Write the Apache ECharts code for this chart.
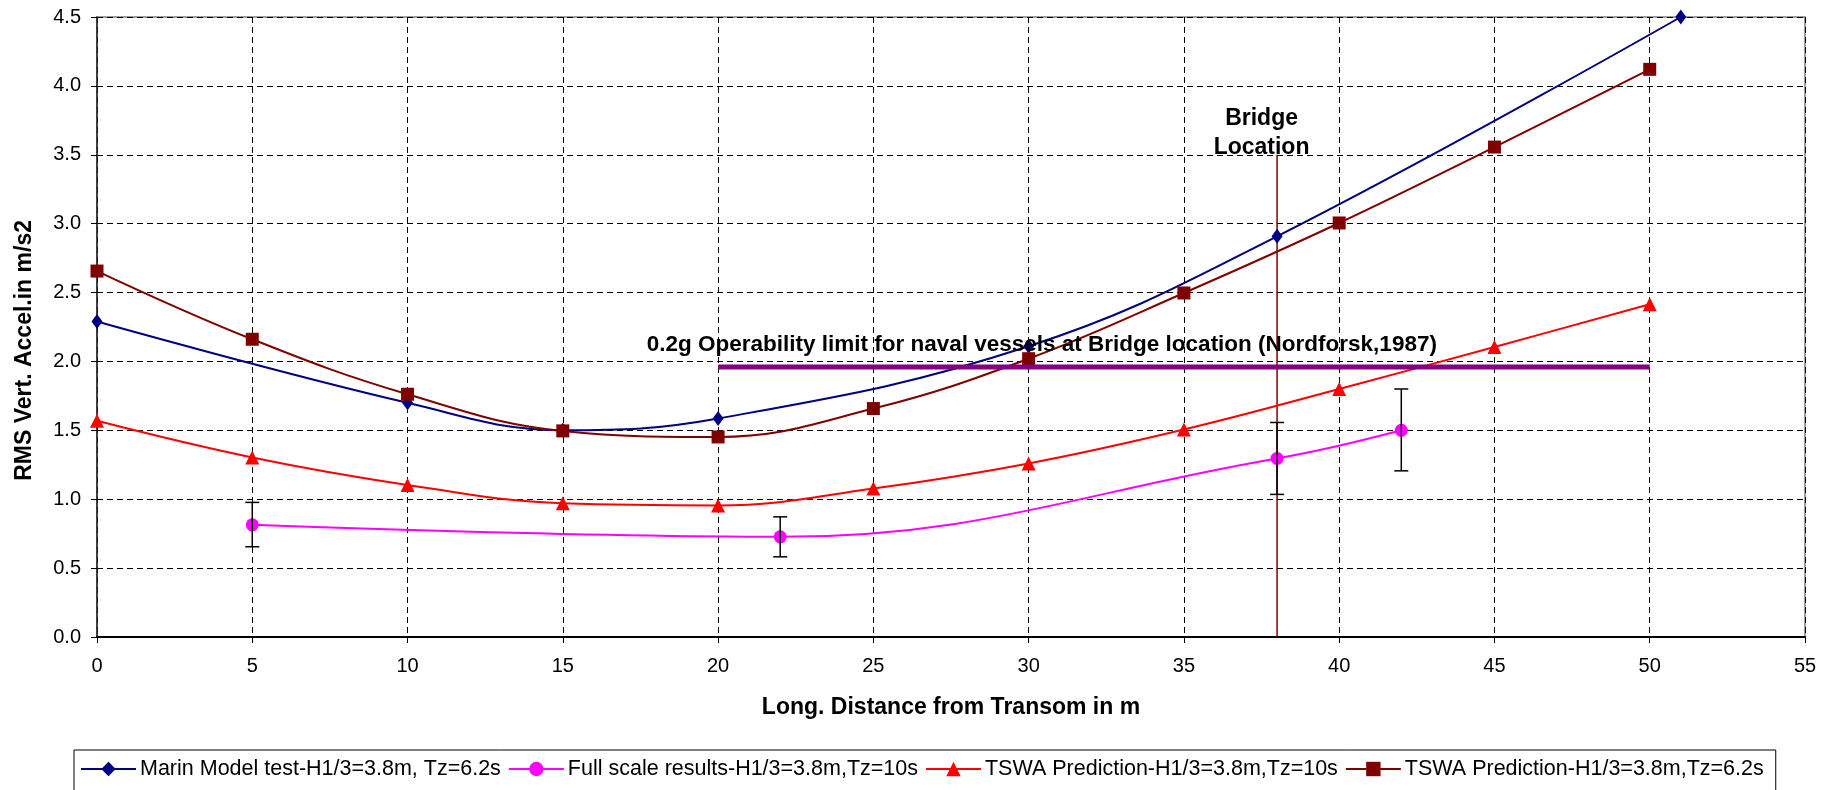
<!DOCTYPE html>
<html>
<head>
<meta charset="utf-8">
<title>RMS Vertical Acceleration</title>
<script src="https://cdn.jsdelivr.net/npm/echarts@6/dist/echarts.min.js"></script>
<style>
    html, body { margin: 0; padding: 0; background: #fff; }
    #chart { width: 1836px; height: 790px; }
</style>
</head>
<body>
<div id="chart"></div>
<script>
    // values
    var marinX = [0, 10, 15, 20, 30, 38, 51];
    var marinY = [2.29, 1.70, 1.50, 1.586, 2.11, 2.908, 4.50];

    var fullX = [5, 22, 38, 42];
    var fullY = [0.814, 0.727, 1.296, 1.50];
    var fullLow = [0.655, 0.582, 1.035, 1.206];
    var fullHigh = [0.977, 0.872, 1.557, 1.80];

    var tswaX = [0, 5, 10, 15, 20, 25, 30, 35, 40, 45, 50];
    var tswa10Y = [1.569, 1.303, 1.104, 0.97, 0.955, 1.078, 1.26, 1.506, 1.80, 2.105, 2.415];
    var tswa62Y = [2.656, 2.161, 1.762, 1.496, 1.452, 1.658, 2.02, 2.497, 3.005, 3.556, 4.12];

    var limitX = [20, 50];
    var limitY = 1.96;
    var bridgeX = 38;
    var bridgeTop = 3.5;

    var xTicks = [0, 5, 10, 15, 20, 25, 30, 35, 40, 45, 50, 55];
    var yTicks = [0, 0.5, 1.0, 1.5, 2.0, 2.5, 3.0, 3.5, 4.0, 4.5];

    var seriesNames = [
        'Marin Model test-H1/3=3.8m, Tz=6.2s',
        'Full scale results-H1/3=3.8m,Tz=10s',
        'TSWA Prediction-H1/3=3.8m,Tz=10s',
        'TSWA Prediction-H1/3=3.8m,Tz=6.2s'
    ];

    function pairs(xs, ys){
        return xs.map(function(x, i){ return [x, ys[i]]; });
    }

    var fontName = '"Liberation Sans", Arial, sans-serif';

    var myChart = echarts.init(document.getElementById('chart'));

    var option = {
        animation: false,
        backgroundColor: '#fff',
        grid: {
            left: 97,
            right: 31,
            top: 17,
            bottom: 153,
            show: true,
            borderColor: '#808080',
            borderWidth: 1.5
        },
        legend: {
            left: 74,
            top: 750,
            orient: 'horizontal',
            padding: [8, 12, 40, 6],
            borderColor: '#000',
            borderWidth: 1,
            itemWidth: 55,
            itemHeight: 18,
            itemGap: 7,
            data: seriesNames,
            textStyle: { fontFamily: fontName, fontSize: 21.5, color: '#000', padding: [0, 0, 0, -1] }
        },
        xAxis: {
            type: 'value',
            min: xTicks[0],
            max: xTicks[xTicks.length - 1],
            interval: 5,
            name: 'Long. Distance from Transom in m',
            nameLocation: 'middle',
            nameGap: 59,
            nameTextStyle: { fontFamily: fontName, fontSize: 23, fontWeight: 'bold', color: '#000' },
            axisLine: { onZero: false, lineStyle: { color: '#000', width: 2 } },
            axisTick: { show: true, length: 6, lineStyle: { color: '#000' } },
            axisLabel: { margin: 19, fontFamily: fontName, fontSize: 20, color: '#000' },
            splitLine: { show: true, lineStyle: { color: '#000', type: [6, 4], width: 1 } }
        },
        yAxis: {
            type: 'value',
            min: yTicks[0],
            max: yTicks[yTicks.length - 1],
            interval: 0.5,
            axisLine: { show: true, lineStyle: { color: '#222', width: 1.5 } },
            axisTick: { show: true, length: 6, lineStyle: { color: '#000' } },
            axisLabel: {
                margin: 16,
                fontFamily: fontName,
                fontSize: 20,
                color: '#000',
                formatter: function(v){ return v.toFixed(1); }
            },
            splitLine: { show: true, lineStyle: { color: '#000', type: [6, 4], width: 1 } }
        },
        series: [{
            name: 'bridge',
            type: 'line',
            data: [[bridgeX, 0], [bridgeX, bridgeTop]],
            symbol: 'none',
            lineStyle: { color: '#800000', width: 1.5 },
            z: 1
        }, {
            name: seriesNames[0],
            type: 'line',
            data: pairs(marinX, marinY),
            smooth: 0.4,
            symbol: 'diamond',
            symbolSize: [11, 15],
            color: '#000080',
            lineStyle: { color: '#000080', width: 2 },
            itemStyle: { color: '#000080' },
            z: 3
        }, {
            name: seriesNames[1],
            type: 'line',
            data: pairs(fullX, fullY),
            smooth: 0.4,
            symbol: 'circle',
            symbolSize: 13,
            color: '#ff00ff',
            lineStyle: { color: '#ff00ff', width: 2 },
            itemStyle: { color: '#ff00ff' },
            z: 3
        }, {
            name: 'errorbars',
            type: 'custom',
            data: fullX.map(function(x, i){ return [x, fullLow[i], fullHigh[i]]; }),
            renderItem: function(params, api){
                var lo = api.coord([api.value(0), api.value(1)]);
                var hi = api.coord([api.value(0), api.value(2)]);
                var w = 7;
                var st = { stroke: '#000', lineWidth: 1.5 };
                return {
                    type: 'group',
                    children: [
                        { type: 'line', shape: { x1: lo[0], y1: lo[1], x2: hi[0], y2: hi[1] }, style: st },
                        { type: 'line', shape: { x1: lo[0] - w, y1: lo[1], x2: lo[0] + w, y2: lo[1] }, style: st },
                        { type: 'line', shape: { x1: hi[0] - w, y1: hi[1], x2: hi[0] + w, y2: hi[1] }, style: st }
                    ]
                };
            },
            z: 4
        }, {
            name: seriesNames[2],
            type: 'line',
            data: pairs(tswaX, tswa10Y),
            smooth: 0.4,
            symbol: 'triangle',
            symbolSize: [14, 14],
            color: '#ff0000',
            lineStyle: { color: '#ff0000', width: 2 },
            itemStyle: { color: '#ff0000' },
            z: 3
        }, {
            name: seriesNames[3],
            type: 'line',
            data: pairs(tswaX, tswa62Y),
            smooth: 0.4,
            symbol: 'rect',
            symbolSize: 13,
            color: '#800000',
            lineStyle: { color: '#800000', width: 2 },
            itemStyle: { color: '#800000' },
            z: 3
        }, {
            name: 'limit',
            type: 'line',
            data: [[limitX[0], limitY], [limitX[1], limitY]],
            symbol: 'none',
            lineStyle: { color: '#800080', width: 5 },
            z: 5
        }]
    };

    myChart.setOption(option);

    // annotations placed through the axes
    var pLimit = myChart.convertToPixel({ gridIndex: 0 }, [17.7, 2.12]);
    var pBridge = myChart.convertToPixel({ gridIndex: 0 }, [37.5, 3.76]);
    var pLoc = myChart.convertToPixel({ gridIndex: 0 }, [37.5, 3.55]);
    var pYName = myChart.convertToPixel({ gridIndex: 0 }, [0, 2.08]);

    var boldText = { fontFamily: fontName, fontWeight: 'bold', fill: '#000' };

    myChart.setOption({
        graphic: [{
            type: 'text',
            x: pLimit[0], y: pLimit[1],
            z: 10,
            style: Object.assign({ text: '0.2g Operability limit for naval vessels at Bridge location (Nordforsk,1987)', fontSize: 22.5, align: 'left', verticalAlign: 'middle' }, boldText)
        }, {
            type: 'text',
            x: pBridge[0], y: pBridge[1],
            z: 10,
            style: Object.assign({ text: 'Bridge', fontSize: 23, align: 'center', verticalAlign: 'middle' }, boldText)
        }, {
            type: 'text',
            x: pLoc[0], y: pLoc[1],
            z: 10,
            style: Object.assign({ text: 'Location', fontSize: 23, align: 'center', verticalAlign: 'middle' }, boldText)
        }, {
            type: 'text',
            x: 25, y: pYName[1],
            rotation: Math.PI / 2,
            z: 10,
            style: Object.assign({ text: 'RMS Vert. Accel.in m/s2', fontSize: 23, align: 'center', verticalAlign: 'middle' }, boldText)
        }]
    });
</script>
</body>
</html>
